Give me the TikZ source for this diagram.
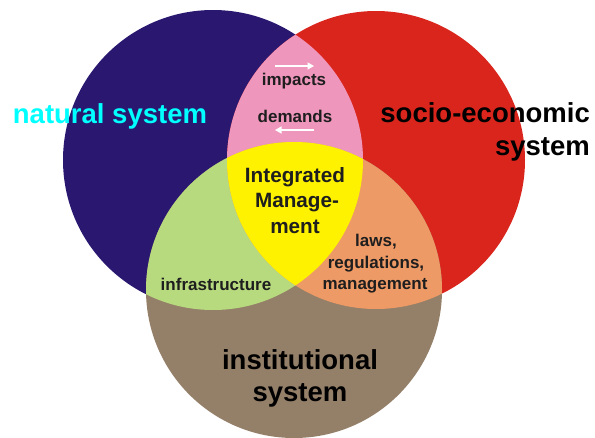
\documentclass[tikz,border=0pt]{standalone}
\usepackage{fontspec}
\setmainfont{Liberation Sans}
\usetikzlibrary{arrows.meta}
\definecolor{natblue}{HTML}{2A1870}
\definecolor{socred}{HTML}{DA251D}
\definecolor{instbrown}{HTML}{947F68}
\definecolor{lenspink}{HTML}{EF96BC}
\definecolor{lensgreen}{HTML}{B8DA7F}
\definecolor{lensorange}{HTML}{EE9A66}
\definecolor{coreyellow}{HTML}{FFF200}
\definecolor{txtdark}{HTML}{1E1E1E}
\definecolor{natcyan}{HTML}{00FFFF}
\tikzset{
  bigtext/.style={font=\bfseries\fontsize{27.5}{33}\selectfont, anchor=base, inner sep=0pt},
  midtext/.style={font=\bfseries\fontsize{20.7}{25}\selectfont, text=txtdark, anchor=base, inner sep=0pt},
  smalltext/.style={font=\bfseries\fontsize{17}{21}\selectfont, text=txtdark, anchor=base, inner sep=0pt},
  flowarrow/.style={draw=white, line width=1.3pt, -{Triangle[length=6.5pt,width=7pt]}}
}
\begin{document}
\begin{tikzpicture}[x=1pt,y=-1pt]
\useasboundingbox (0,0) rectangle (595,437);
\coordinate (L) at (213,160);
\coordinate (R) at (376,160);
\coordinate (B) at (294,290);
% base circles
\fill[natblue] (L) circle (150pt);
\fill[socred] (R) circle (149pt);
\fill[instbrown] (B) circle (148pt);
% pairwise overlaps
\begin{scope}
  \clip (L) circle (150pt);
  \fill[lenspink] (R) circle (149pt);
  \fill[lensgreen] (B) circle (148pt);
\end{scope}
\begin{scope}
  \clip (R) circle (149pt);
  \fill[lensorange] (B) circle (148pt);
\end{scope}
% triple overlap
\begin{scope}
  \clip (L) circle (150pt);
  \clip (R) circle (149pt);
  \fill[coreyellow] (B) circle (148pt);
\end{scope}
% labels
\node[bigtext, text=natcyan] (nat) at (110,123) {natural system};
\node[bigtext, anchor=base east] (soc1) at (590,122) {socio-economic};
\node[bigtext, anchor=base east] (soc2) at (590,155) {system};
\node[bigtext] (inst1) at (300,369) {institutional};
\node[bigtext] (inst2) at (300,401) {system};
\node[midtext] (im1) at (295,182) {Integrated};
\node[midtext] (im2) at (297,207) {Manage-};
\node[midtext] (im3) at (295,233) {ment};
\node[smalltext] (imp) at (294,85) {impacts};
\node[smalltext] (dem) at (295,122) {demands};
\node[smalltext] (infra) at (216,290) {infrastructure};
\node[smalltext] (law1) at (376,246) {laws,};
\node[smalltext] (law2) at (376,268) {regulations,};
\node[smalltext] (law3) at (375,289) {management};
% arrows
\coordinate (a1s) at (275,66);
\coordinate (a1e) at (314,66);
\coordinate (a2s) at (314,130);
\coordinate (a2e) at (275,130);
\draw[flowarrow] (a1s) -- (a1e);
\draw[flowarrow] (a2s) -- (a2e);
\end{tikzpicture}
\end{document}
